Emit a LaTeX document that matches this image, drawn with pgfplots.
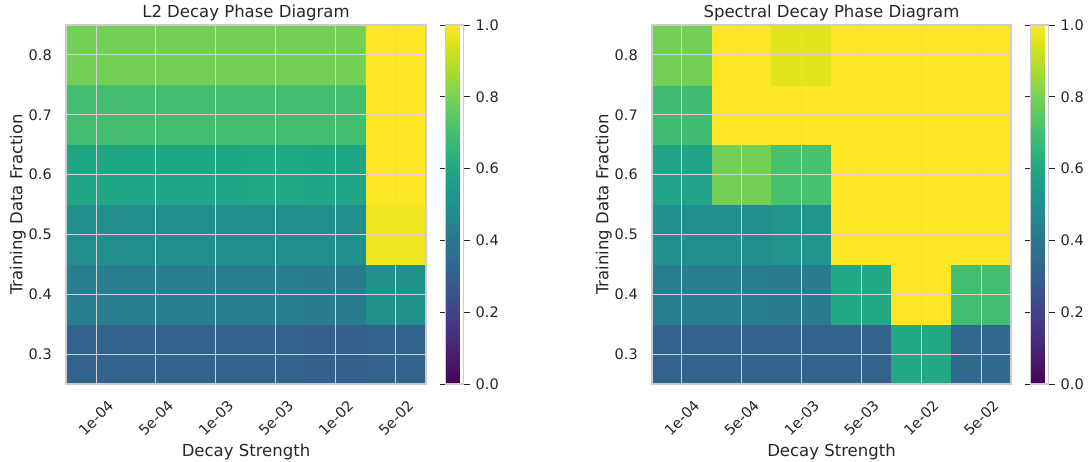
\documentclass[border=0pt]{standalone}
\usepackage{pgfplots}
\pgfplotsset{compat=1.18}
\usepackage{pgfplotstable}
\usepackage{fontspec}
\setmainfont{DejaVu Sans}
\definecolor{txt}{HTML}{262626}
\definecolor{frame}{HTML}{CCCCCC}
\definecolor{gridc}{HTML}{D2D2D2}

\pgfplotstableread{
x y c
0 0.3 0.31
1 0.3 0.31
2 0.3 0.31
3 0.3 0.31
4 0.3 0.30
5 0.3 0.31
0 0.4 0.42
1 0.4 0.42
2 0.4 0.42
3 0.4 0.42
4 0.4 0.41
5 0.4 0.51
0 0.5 0.50
1 0.5 0.50
2 0.5 0.50
3 0.5 0.50
4 0.5 0.50
5 0.5 0.98
0 0.6 0.59
1 0.6 0.59
2 0.6 0.59
3 0.6 0.60
4 0.6 0.59
5 0.6 1.00
0 0.7 0.70
1 0.7 0.70
2 0.7 0.70
3 0.7 0.70
4 0.7 0.70
5 0.7 1.00
0 0.8 0.79
1 0.8 0.79
2 0.8 0.79
3 0.8 0.79
4 0.8 0.79
5 0.8 1.00
}\lTwo

\pgfplotstableread{
x y c
0 0.3 0.31
1 0.3 0.31
2 0.3 0.31
3 0.3 0.31
4 0.3 0.60
5 0.3 0.34
0 0.4 0.42
1 0.4 0.42
2 0.4 0.41
3 0.4 0.60
4 0.4 1.00
5 0.4 0.70
0 0.5 0.50
1 0.5 0.50
2 0.5 0.52
3 0.5 1.00
4 0.5 1.00
5 0.5 1.00
0 0.6 0.58
1 0.6 0.79
2 0.6 0.71
3 0.6 1.00
4 0.6 1.00
5 0.6 1.00
0 0.7 0.69
1 0.7 1.00
2 0.7 1.00
3 0.7 1.00
4 0.7 1.00
5 0.7 1.00
0 0.8 0.79
1 0.8 1.00
2 0.8 0.96
3 0.8 1.00
4 0.8 1.00
5 0.8 1.00
}\spec

\pgfplotsset{
  hm/.style={
    scale only axis,
    width=360pt, height=359pt,
    anchor=south west,
    xmin=-0.5, xmax=5.5, ymin=0.25, ymax=0.85,
    xtick={0,1,2,3,4,5},
    xticklabels={1e-04,5e-04,1e-03,5e-03,1e-02,5e-02},
    ytick={0.3,0.4,0.5,0.6,0.7,0.8},
    yticklabel style={/pgf/number format/fixed, /pgf/number format/fixed zerofill, /pgf/number format/precision=1},
    /pgf/number format/assume math mode=true,
    major tick length=0pt,
    grid=major,
    major grid style={gridc, line width=1pt},
    axis line style={frame, line width=1.2pt},
    axis on top,
    colormap/viridis,
    point meta min=0, point meta max=1,
    tick label style={text=txt, font=\fontsize{14.5}{16}\selectfont},
    yticklabel style={anchor=east, inner sep=0pt, xshift=-14pt},
    xticklabel style={inner sep=0pt, yshift=-34pt, rotate=45, anchor=center},
    label style={text=txt, font=\fontsize{16.5}{18}\selectfont},
    title style={text=txt, font=\fontsize{16.5}{18}\selectfont, at={(axis description cs:0.5,1.016)}, anchor=center},
    xlabel style={at={(axis description cs:0.5,-0.189)}, anchor=center},
    ylabel style={at={(axis description cs:-0.134,0.5)}, anchor=center, rotate=0},
    xlabel={Decay Strength},
    ylabel={Training Data Fraction},
    colorbar,
    colorbar style={
      at={(parent axis.north east)}, anchor=north west, xshift=11pt,
      width=18pt, height=359pt, scale only axis,
      ytick={0,0.2,0.4,0.6,0.8,1},
      yticklabel style={/pgf/number format/fixed, /pgf/number format/fixed zerofill, /pgf/number format/precision=1, text=txt, font=\fontsize{14.5}{16}\selectfont, anchor=west, inner sep=0pt, xshift=6pt},
      /pgf/number format/assume math mode=true,
      major tick length=6pt, tick align=outside,
      major tick style={txt, line width=0.9pt},
      axis line style={frame, line width=1.2pt},
      grid=none,
    },
  }
}

\begin{document}
\begin{tikzpicture}[x=1pt,y=1pt]
\path[use as bounding box] (0,0) rectangle (1088,461);
\begin{axis}[hm, at={(66pt,77pt)}, title={L2 Decay Phase Diagram}]
\addplot[matrix plot*, mesh/cols=6, point meta=explicit] table[x=x, y=y, meta=c] {\lTwo};
\end{axis}
\begin{axis}[hm, at={(652pt,77pt)}, width=359pt, title={Spectral Decay Phase Diagram}]
\addplot[matrix plot*, mesh/cols=6, point meta=explicit] table[x=x, y=y, meta=c] {\spec};
\end{axis}
\end{tikzpicture}
\end{document}
